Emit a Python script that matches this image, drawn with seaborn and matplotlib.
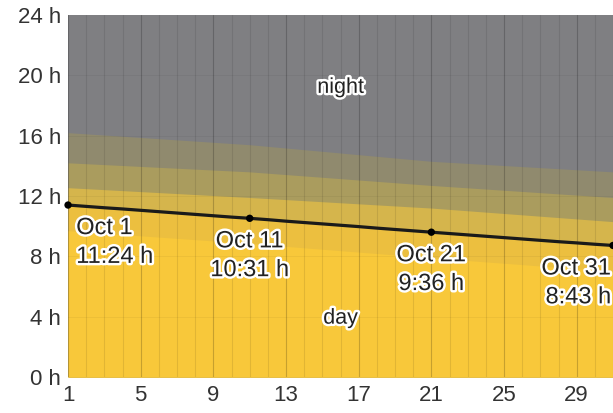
import matplotlib
matplotlib.use("Agg")
import matplotlib.pyplot as plt
import matplotlib.patheffects as pe
import numpy as np
import pandas as pd
import seaborn as sns

sns.set_style("white")
plt.rcParams["font.family"] = ["Liberation Sans", "DejaVu Sans"]

# daylight in October, hours
days = list(range(1, 32))
day_hours = [11.40, 11.31, 11.22, 11.14, 11.05, 10.96, 10.87, 10.78, 10.69, 10.60,
             10.52, 10.43, 10.33, 10.24, 10.15, 10.06, 9.97, 9.87, 9.78, 9.69,
             9.60, 9.51, 9.42, 9.33, 9.24, 9.15, 9.06, 8.97, 8.89, 8.80, 8.72]
# twilight band tops read at a few days
band_days = [1, 11, 21, 31]
civil_top = [12.55, 11.90, 11.20, 10.30]
nautical_top = [14.20, 13.60, 12.70, 11.90]
astro_top = [16.20, 15.40, 14.30, 13.60]
# slightly darker yellow strip under the day line
inner_day = [9.70, 8.85, 7.90, 7.00]

label_days = [1, 11, 21, 31]
label_text = ["Oct 1\n11:24 h", "Oct 11\n10:31 h", "Oct 21\n9:36 h", "Oct 31\n8:43 h"]
xticks = [1, 5, 9, 13, 17, 21, 25, 29]
yticks = [0, 4, 8, 12, 16, 20, 24]

df = pd.DataFrame({"day": days, "hours": day_hours})
bands = pd.DataFrame({"day": band_days, "civil": civil_top, "nautical": nautical_top,
                      "astro": astro_top, "inner": inner_day})

c_night = "#7f7f82"
c_astro = "#908a6e"
c_naut = "#aa9c5e"
c_civil = "#d5b54c"
c_day_hi = "#ecbf3f"
c_day = "#f8c83a"

fig = plt.figure(figsize=(6.13, 4.13), dpi=100)
ax = fig.add_axes([0.111, 0.0872, 0.889, 0.8765])

ax.fill_between(bands["day"], 0, 24, color=c_night, lw=0)
ax.fill_between(bands["day"], 0, bands["astro"], color=c_astro, lw=0)
ax.fill_between(bands["day"], 0, bands["nautical"], color=c_naut, lw=0)
ax.fill_between(bands["day"], 0, bands["civil"], color=c_civil, lw=0)
ax.fill_between(df["day"], 0, df["hours"], color=c_day_hi, lw=0)
ax.fill_between(bands["day"], 0, bands["inner"], color=c_day, lw=0)

# vertical day grid
for d in days:
    a = 0.20 if d in xticks else 0.09
    ax.axvline(d, color="black", lw=0.8, alpha=a, zorder=2)
for h in yticks[1:-1]:
    ax.axhline(h, color="black", lw=0.6, alpha=0.05, zorder=2)

sns.lineplot(data=df, x="day", y="hours", color="#1a1a1a", lw=2.3, ax=ax, zorder=4)
mark = df[df["day"].isin(label_days)]
sns.scatterplot(data=mark, x="day", y="hours", color="black", s=28, ax=ax,
                zorder=5, edgecolor="none", clip_on=False)

halo = [pe.withStroke(linewidth=3.5, foreground="white")]
for d, t in zip(label_days, label_text):
    h = df.loc[df["day"] == d, "hours"].iloc[0]
    if d == 1:
        x, ha = 1.45, "left"
    elif d == 31:
        x, ha = 30.9, "right"
    else:
        x, ha = d, "center"
    ax.text(x, h - 0.8, t, ha=ha, va="top", fontsize=17, color="#222222",
            linespacing=1.4, path_effects=halo, zorder=6)

ax.text(16, 19.2, "night", ha="center", va="center", fontsize=15.5, color="#222222",
        path_effects=halo, zorder=6)
ax.text(16, 3.9, "day", ha="center", va="center", fontsize=15.5, color="#222222",
        path_effects=halo, zorder=6)

ax.set_xlim(1, 31)
ax.set_ylim(0, 24)
ax.set_xticks(xticks)
ax.set_xticklabels([str(t) for t in xticks])
ax.set_yticks(yticks)
ax.set_yticklabels([f"{t} h" for t in yticks])
ax.tick_params(axis="both", length=0, labelsize=16, labelcolor="#333333")
ax.tick_params(axis="x", pad=6)
ax.tick_params(axis="y", pad=5)
ax.set_xlabel("")
ax.set_ylabel("")
for s in ax.spines.values():
    s.set_visible(False)

fig.savefig("out.png", dpi=100)
